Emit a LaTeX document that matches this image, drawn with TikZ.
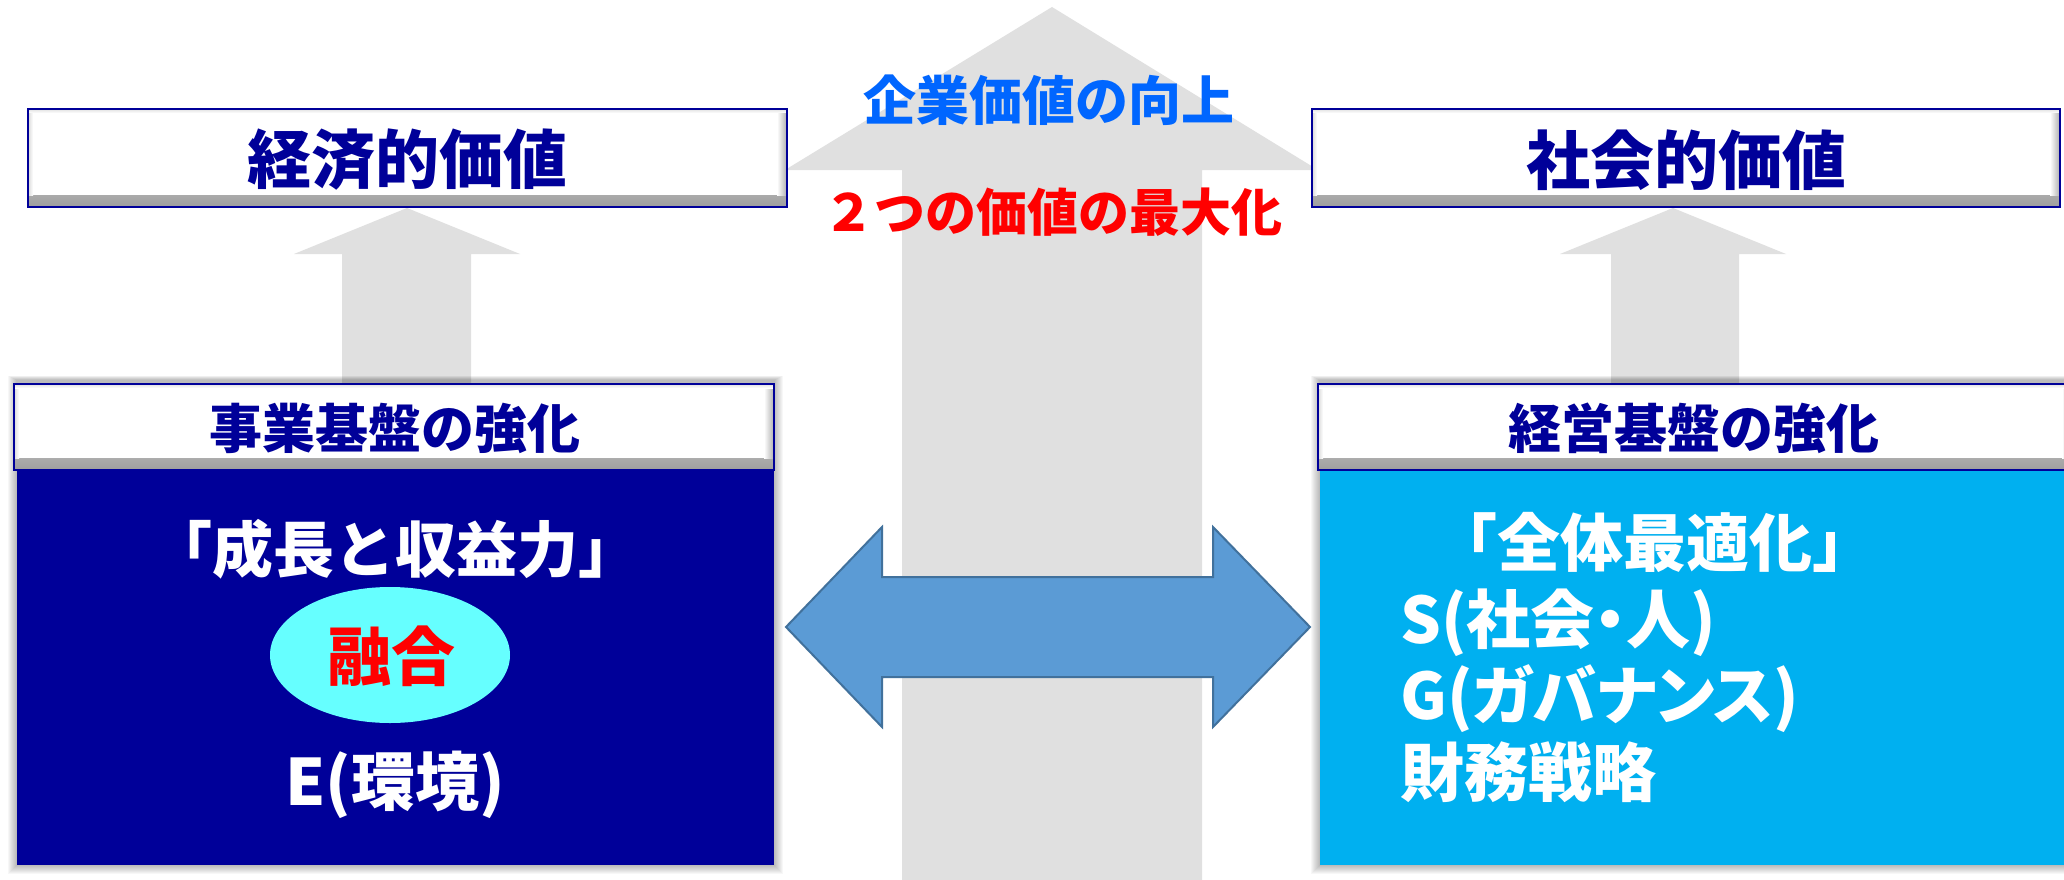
\documentclass[tikz,border=0pt]{standalone}
\usepackage{fontspec}
\newfontfamily\cjk{Noto Sans CJK JP}
\newfontfamily\cjkp{Noto Sans CJK JP}[RawFeature=+palt]
\usetikzlibrary{shapes.geometric}
\newcommand\myfs[1]{\fontsize{#1}{#1}\selectfont}
\definecolor{navy}{HTML}{000099}
\definecolor{skyb}{HTML}{00B0F0}
\definecolor{lcyan}{HTML}{66FFFF}
\definecolor{arrowgray}{HTML}{E0E0E0}
\definecolor{dblue}{HTML}{5B9BD5}
\definecolor{dblueedge}{HTML}{41719C}
\definecolor{tblue}{HTML}{0066FF}
\definecolor{tred}{HTML}{FF0000}
\tikzset{
  jp/.style={inner sep=0pt, font=\cjk\bfseries\myfs{#1}},
  jpp/.style={inner sep=0pt, font=\cjkp\bfseries\myfs{#1}},
  bevel/.style={draw=navy, line width=2.5pt, fill=white, inner sep=0pt,
    path picture={
      \shade[top color=white, bottom color=black!38]
        ([yshift=12pt]path picture bounding box.south west) rectangle (path picture bounding box.south east);
      \shade[left color=white, right color=black!32]
        ([xshift=-10pt]path picture bounding box.north east) rectangle ([yshift=12pt]path picture bounding box.south east);
      \shade[right color=white, left color=black!15]
        (path picture bounding box.north west) rectangle ([xshift=5pt,yshift=12pt]path picture bounding box.south west);
      \shade[bottom color=white, top color=black!12]
        (path picture bounding box.north west) rectangle ([yshift=-4pt]path picture bounding box.north east);
    }},
  body/.style={inner sep=0pt, draw=none},
  garrow/.style={fill=arrowgray},
}
\begin{document}
\begin{tikzpicture}[x=1pt,y=-1pt]
\useasboundingbox (0,0) rectangle (2064,880);
\clip (0,0) rectangle (2064,880);
\fill[white] (0,0) rectangle (2064,880);

% big central arrow
\fill[garrow] (1052,7) -- (1318,170) -- (1202,170) -- (1202,880) -- (902,880) -- (902,170) -- (785,170) -- cycle;
% small arrows
\fill[garrow] (407,208) -- (520,254) -- (471,254) -- (471,386) -- (342,386) -- (342,254) -- (294,254) -- cycle;
\fill[garrow] (1673,208) -- (1786,254) -- (1739,254) -- (1739,386) -- (1611,386) -- (1611,254) -- (1560,254) -- cycle;

% soft shadows of lower boxes
\foreach \i in {1,...,9}{
  \fill[black,opacity=0.03] (17-\i,380-\i/2) rectangle (774+\i,865+\i);
  \fill[black,opacity=0.03] (1320-\i,380-\i/2) rectangle (2080,865+\i);
}

% top value boxes
\node[bevel, minimum width=759pt, minimum height=98pt] (econ) at (407.5,158) {};
\node[jp=64, navy] (econt) at (407,160) {経済的価値};
\node[bevel, minimum width=748pt, minimum height=98pt] (soc) at (1686,158) {};
\node[jp=64, navy] (soct) at (1686,160) {社会的価値};

% centre texts
\node[jp=53, tblue] (corp) at (1049,100) {企業価値の向上};
\node[jp=51, tred] (maxi) at (1053,212) {２つの価値の最大化};

% lower left box
\node[body, fill=navy, minimum width=757pt, minimum height=395pt] (lbody) at (395.5,667.5) {};
\node[bevel, minimum width=760pt, minimum height=86pt] (lhead) at (394,427) {};
\node[jp=53, navy] (lheadt) at (395,428) {事業基盤の強化};
\node[jp=61, white] (growth) at (395,549) {「成長と収益力」};
\node[ellipse, fill=lcyan, inner sep=0pt, minimum width=240pt, minimum height=136pt] (fuse) at (390,655) {};
\node[jp=64, tred] (fuset) at (391,656) {融合};
\node[jp=64, white] (env) at (395,785) {E(環境)};

% lower right box
\node[body, fill=skyb, minimum width=752pt, minimum height=395pt] (rbody) at (1696,667.5) {};
\node[bevel, minimum width=754pt, minimum height=86pt] (rhead) at (1695,427) {};
\node[jp=53, navy] (rheadt) at (1694,428) {経営基盤の強化};
\node[jp=63, white, anchor=west] (opt) at (1434,542) {「全体最適化」};
\node[jpp=64, white, anchor=west] (sline) at (1400,623) {S(社会・人)};
\node[jpp=64, white, anchor=west] (gline) at (1400,699) {G(ガバナンス)};
\node[jp=64, white, anchor=west] (fline) at (1400,772) {財務戦略};

% double arrow between the two bases
\draw[fill=dblue, draw=dblueedge, line width=2pt, line join=miter]
  (786,627) -- (882,527) -- (882,577) -- (1213,577) -- (1213,527) -- (1310,627)
  -- (1213,727) -- (1213,677) -- (882,677) -- (882,727) -- cycle;
\end{tikzpicture}
\end{document}
